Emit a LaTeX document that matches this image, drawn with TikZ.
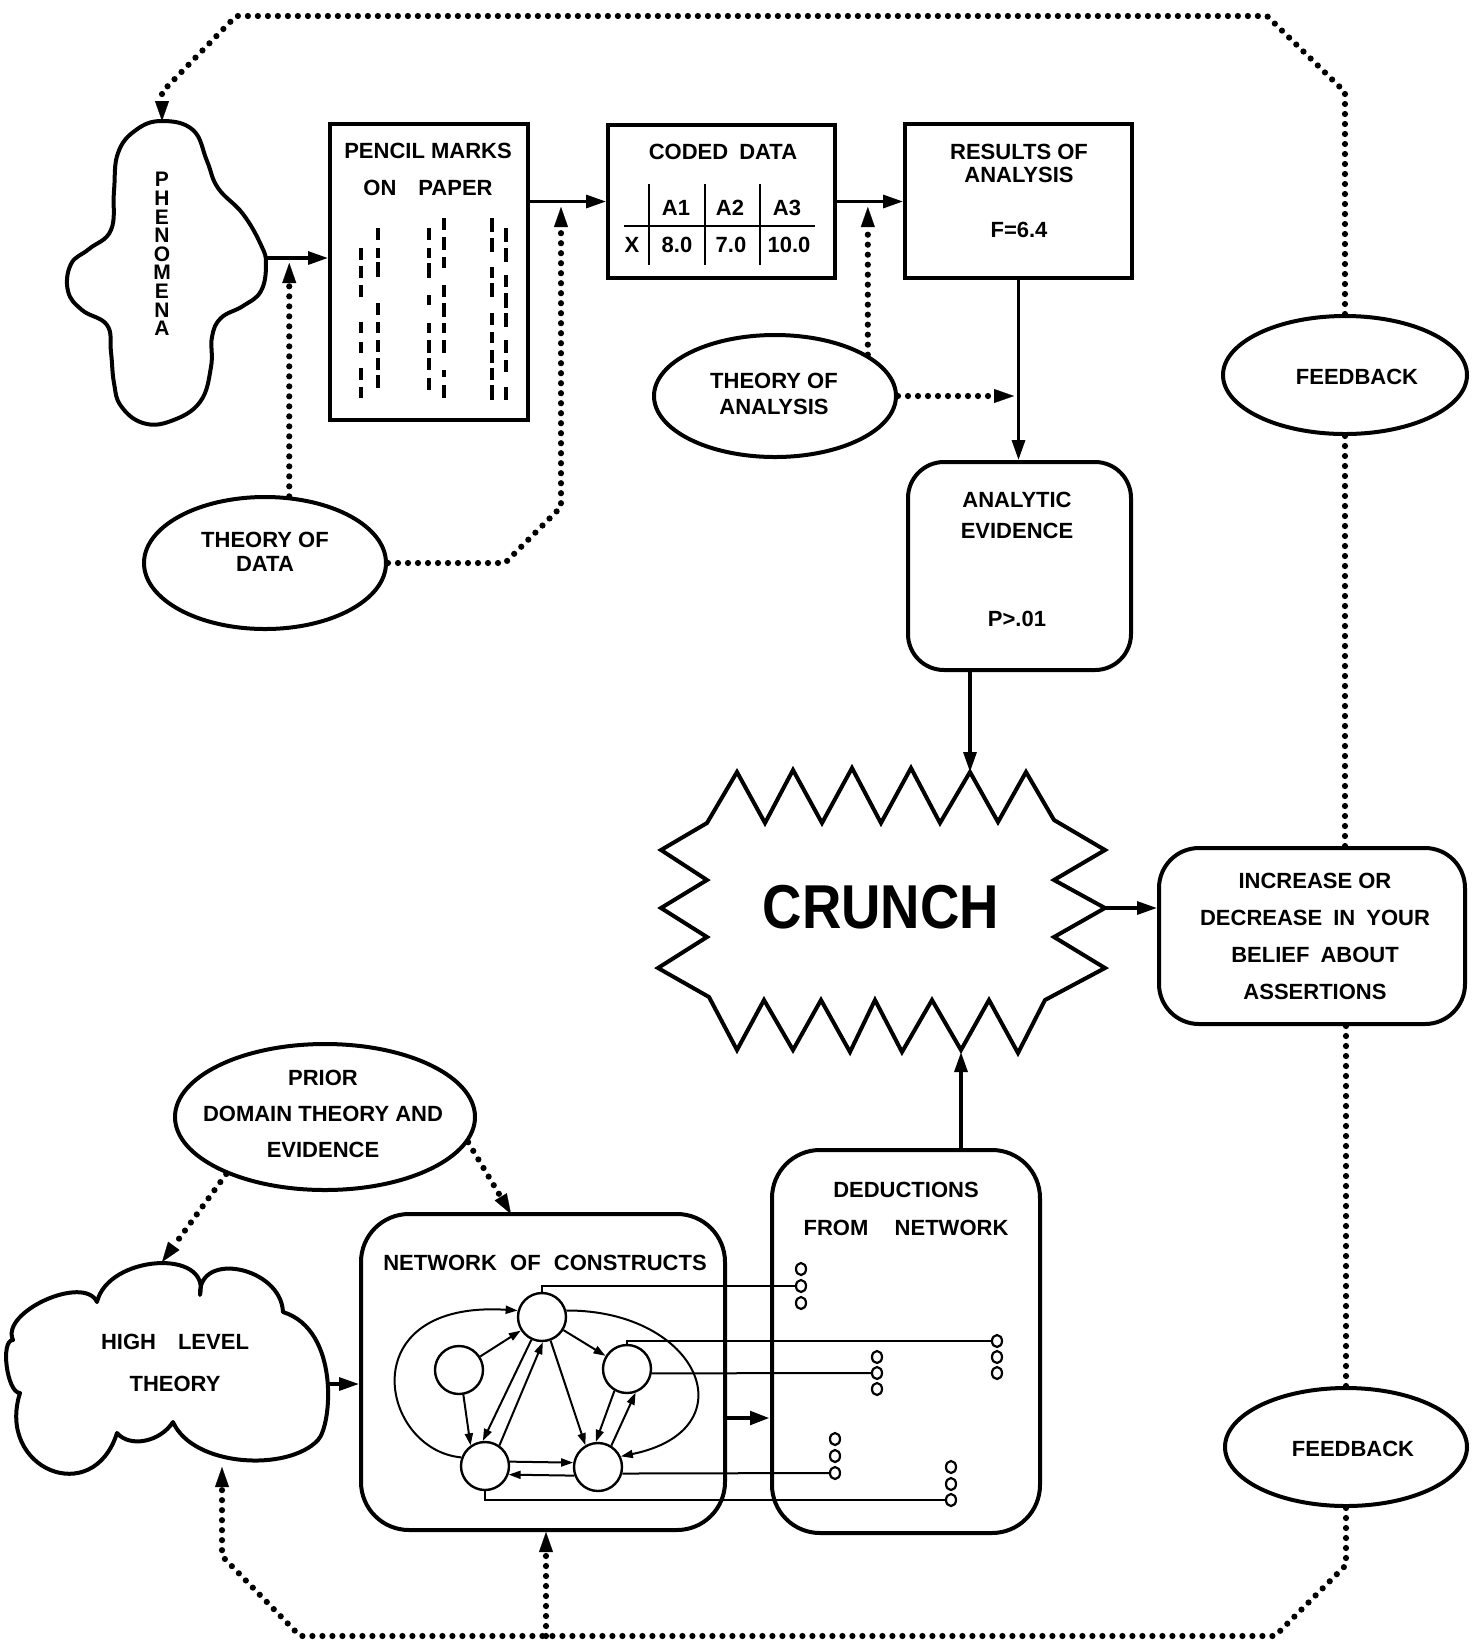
\documentclass[tikz,border=0pt]{standalone}
\usepackage{fontspec}
\setmainfont{Liberation Sans}
\usetikzlibrary{arrows.meta,shapes.geometric}
\newcommand\lblf{\bfseries\fontsize{11}{13}\selectfont}
\begin{document}
\begin{tikzpicture}[x=0.5pt,y=-0.5pt,
  box/.style={draw, line width=2pt, inner sep=0pt, rectangle},
  oval/.style={draw, ellipse, line width=2pt, inner sep=0pt},
  lbl/.style={font=\lblf, align=center, inner sep=0pt},
  arr/.style={line width=1.6pt, -{Triangle[length=10pt,width=6.5pt]}},
  dotl/.style={line width=3.1pt, line cap=round, dash pattern=on 0pt off 5pt},
  dota/.style={dotl, -{Triangle[length=10pt,width=7pt,line width=0.1pt]}},
  netl/.style={line width=1pt},
  neta/.style={netl, -{Triangle[length=6pt,width=4pt]}},
  cnode/.style={draw, circle, line width=1.2pt, minimum size=24pt, inner sep=0pt},
  sdot/.style={draw, ellipse, line width=1.1pt, minimum width=5pt, minimum height=6pt, inner sep=0pt},
  pmark/.style={line width=1.6pt},
  outline/.style={line width=2pt, line join=round}
]
\useasboundingbox (0,0) rectangle (1473,1646);
\fill[white] (0,0) rectangle (1473,1646);

% ---------- Phenomena cloud ----------
\draw[outline] plot[smooth cycle, tension=0.7] coordinates {(162,121) (193,130) (207,161) (218,188) (243,214) (261,245) (266,264) (261,291) (243,306) (221,318) (212,337) (211,367) (200,402) (171,421) (143,423) (121,406) (114,383) (111,352) (107,325) (82,310) (68,291) (71,264) (89,249) (111,230) (114,191) (118,153) (136,130)};
\node[font=\bfseries\fontsize{10.5}{9.3}\selectfont, align=center, inner sep=0pt] (phen) at (162,254) {P\\H\\E\\N\\O\\M\\E\\N\\A};
\coordinate (phenT) at (162,121);
\coordinate (phenR) at (266,258);

% ---------- boxes ----------
\node[box, minimum width=99pt, minimum height=148pt] (pencil) at (429,272) {};
\node[lbl] (pencilT1) at (428,151) {PENCIL MARKS};
\node[lbl] (pencilT2) at (428,188) {ON\hspace{1em}PAPER};
\foreach \a/\b in {248/260,266/278,285/297,322/333,342/353,368/380,387/398} \draw[pmark] (361,\a) -- (361,\b);
\foreach \a/\b in {228/240,248/258,262/277,303/315,322/333,340/352,358/370,375/388} \draw[pmark] (378,\a) -- (378,\b);
\foreach \a/\b in {228/240,248/258,263/278,295/305,323/333,340/353,358/370,378/390} \draw[pmark] (429,\a) -- (429,\b);
\foreach \a/\b in {218/230,237/250,257/268,285/297,303/317,323/333,340/353,370/377,385/398} \draw[pmark] (444,\a) -- (444,\b);
\foreach \a/\b in {218/232,238/252,267/278,283/297,313/325,332/343,350/363,368/380,385/400} \draw[pmark] (492,\a) -- (492,\b);
\foreach \a/\b in {228/242,248/262,275/287,293/308,313/327,340/353,360/372,387/400} \draw[pmark] (506,\a) -- (506,\b);

\node[box, minimum width=113.5pt, minimum height=76.5pt] (coded) at (721.5,201.5) {};
\node[lbl] (codedT) at (723,152) {CODED\hspace{0.5em}DATA};
\draw[line width=1.2pt] (649,184) -- (649,265);
\draw[line width=1.2pt] (705,184) -- (705,265);
\draw[line width=1.2pt] (760,184) -- (760,265);
\draw[line width=1.2pt] (624,226) -- (815,226);
\node[lbl] (ta1) at (676,208) {A1};
\node[lbl] (ta2) at (730,208) {A2};
\node[lbl] (ta3) at (787,208) {A3};
\node[lbl] (tx) at (632,245) {X};
\node[lbl] (tv1) at (677,245) {8.0};
\node[lbl] (tv2) at (731,245) {7.0};
\node[lbl] (tv3) at (789,245) {10.0};

\node[box, minimum width=113.5pt, minimum height=77pt] (results) at (1018.5,201) {};
\node[lbl] (resultsT) at (1019,163.5) {RESULTS OF\\[-1.5pt]ANALYSIS};
\node[lbl] (resultsF) at (1019,230) {F=6.4};

\node[box, rounded corners=18pt, minimum width=111.5pt, minimum height=104pt] (analytic) at (1019.5,566) {};
\node[lbl] (analyticT) at (1017,515.5) {ANALYTIC\\[2.5pt]EVIDENCE};
\node[lbl] (analyticP) at (1017,619) {P>.01};

\node[box, rounded corners=20pt, minimum width=153pt, minimum height=88pt] (increase) at (1312,936) {};
\node[lbl] (increaseT) at (1315,936) {INCREASE OR\\[5.5pt]DECREASE\hspace{0.5em}IN\hspace{0.5em}YOUR\\[5.5pt]BELIEF\hspace{0.5em}ABOUT\\[5.5pt]ASSERTIONS};

\node[box, rounded corners=24pt, minimum width=182pt, minimum height=158pt] (network) at (543,1372) {};
\node[lbl] (networkT) at (545,1263) {NETWORK\hspace{0.6em}OF\hspace{0.6em}CONSTRUCTS};

\node[box, rounded corners=24pt, minimum width=134pt, minimum height=191.5pt] (deduct) at (906,1341.5) {};
\node[lbl] (deductT) at (906,1209) {DEDUCTIONS\\[6pt]FROM\hspace{1.2em}NETWORK};

% ---------- ellipses ----------
\node[oval, minimum width=121pt, minimum height=66pt] (tod) at (265,563) {};
\node[lbl] (todT) at (265,552) {THEORY OF\\[-1pt]DATA};
\node[oval, minimum width=121pt, minimum height=61pt] (toa) at (775,396) {};
\node[lbl] (toaT) at (774,394) {THEORY OF\\ANALYSIS};
\node[oval, minimum width=122pt, minimum height=59pt] (fb1) at (1345,375) {};
\node[lbl] (fb1T) at (1357,377) {FEEDBACK};
\node[oval, minimum width=121pt, minimum height=59pt] (fb2) at (1346,1447) {};
\node[lbl] (fb2T) at (1353,1449) {FEEDBACK};
\node[oval, minimum width=150pt, minimum height=73pt] (prior) at (325,1117) {};
\node[lbl] (priorT) at (323,1114) {PRIOR\\[5pt]DOMAIN THEORY AND\\[5pt]EVIDENCE};

% ---------- high level theory cloud ----------
\draw[outline] (13,1340) .. controls (0,1312) and (84,1274) .. (97,1302)
 .. controls (108,1255) and (211,1248) .. (200,1295)
 .. controls (198,1250) and (281,1267) .. (283,1312)
 .. controls (340,1330) and (332,1425) .. (318,1440)
 .. controls (288,1472) and (193,1467) .. (173,1422)
 .. controls (160,1442) and (130,1448) .. (117,1433)
 .. controls (93,1509) and (-4,1469) .. (20,1393)
 .. controls (7,1393) and (0,1340) .. (13,1340) -- cycle;
\node[lbl] (hlt) at (175,1363) {HIGH\hspace{1em}LEVEL\\[8pt]THEORY};
\coordinate (hT) at (162,1262);
\coordinate (hR) at (327,1384);
\coordinate (hB) at (222,1467);

% ---------- crunch ----------
\draw[line width=2pt, line join=miter] (707,823) -- (737,772) -- (765,823) -- (793,770) -- (822,823) -- (852,768) -- (881,823) -- (911,768) -- (940,823) -- (970,772) -- (998,822) -- (1026,772) -- (1054,820) -- (1105,850) -- (1054,880) -- (1105,908) -- (1054,937) -- (1105,968) -- (1045,1000) -- (1018,1053) -- (989,1000) -- (961,1050) -- (932,1000) -- (902,1052) -- (875,1000) -- (850,1052) -- (821,1000) -- (793,1050) -- (764,1000) -- (737,1050) -- (709,997) -- (658,968) -- (707,937) -- (661,908) -- (707,880) -- (661,850) -- cycle;
\node[font=\bfseries\fontsize{31}{31}\selectfont, inner sep=0pt] (crunch) at (881,907) {\scalebox{0.88}[1]{CRUNCH}};
\coordinate (cT) at (970,772);
\coordinate (cR) at (1105,908);
\coordinate (cB) at (961,1052);

% ---------- main arrows ----------
\draw[arr] (phenR) -- (phenR -| pencil.west);
\draw[arr] (pencil.east |- coded.west) -- (coded.west);
\draw[arr] (coded.east) -- (coded.east -| results.west);
\draw[arr] (results.south) -- (results.south |- analytic.north);
\draw[arr] (analytic.south -| cT) -- (cT);
\draw[arr] (cR) -- (cR -| increase.west);
\draw[arr] (deduct.north -| cB) -- (cB);
\draw[arr] (hR) -- (hR -| network.west);
\coordinate (nd) at (725,1418);
\draw[arr, line width=2.4pt] (nd) -- (nd -| deduct.west);

% ---------- dotted arrows ----------
\coordinate (j1) at (288,263);
\draw[dota] (tod.70) -- (tod.70 |- j1);
\coordinate (j2) at (561,207);
\draw[dota] (tod.east) -- (505,563) -- (561,507) -- (j2);
\coordinate (j3) at (865,207);
\draw[dota] (toa.24) -- (toa.24 |- j3);
\coordinate (j4) at (1014,396);
\draw[dota] (toa.east) -- (toa.east -| j4);
\draw[dota] (fb1.north) -- (1345,92) -- (1267,16) -- (236,16) -- (162,92) -- (phenT);
\draw[dotl] (fb1.south) -- (fb1.south |- increase.north);
\draw[dotl] (increase.south -| fb2.north) -- (fb2.north);
\draw[dota] (fb2.south) -- (1346,1565) -- (1275,1636) -- (300,1636) -- (222,1556) -- (hB);
\coordinate (bN) at (546,1636);
\draw[dota] (bN) -- (bN |- network.south);
\draw[dota] (prior.210) -- (hT);
\coordinate (nT) at (511,1214);
\draw[dota] (prior.-10) -- (nT);

% ---------- network of constructs ----------
\node[cnode] (c1) at (542,1317) {};
\node[cnode] (c2) at (459,1370) {};
\node[cnode] (c3) at (627,1369) {};
\node[cnode] (c4) at (485,1466) {};
\node[cnode] (c5) at (598,1467) {};
\draw[neta] (c2) -- (c1);
\draw[neta] (c2.280) -- (c4.125);
\draw[neta] (c1.245) -- (c4.95);
\draw[neta] (c4.55) -- (c1.272);
\draw[neta] (c1) -- (c3);
\draw[neta] (c1.290) -- (c5.120);
\draw[neta] (c3.240) -- (c5.95);
\draw[neta] (c5.58) -- (c3.290);
\draw[neta] (c4.10) -- (c5.170);
\draw[neta] (c5.200) -- (c4.340);
\draw[neta] (c4.160) .. controls (380,1450) and (350,1300) .. (c1.165);
\draw[neta] (c1.15) .. controls (700,1310) and (750,1430) .. (c5.25);

\node[sdot] (g1a) at (801,1269) {};
\node[sdot] (g1b) at (801,1286) {};
\node[sdot] (g1c) at (801,1303) {};
\node[sdot] (g2a) at (997,1341) {};
\node[sdot] (g2b) at (997,1357) {};
\node[sdot] (g2c) at (997,1373) {};
\node[sdot] (g3a) at (877,1357) {};
\node[sdot] (g3b) at (877,1373) {};
\node[sdot] (g3c) at (877,1389) {};
\node[sdot] (g4a) at (835,1439) {};
\node[sdot] (g4b) at (835,1456) {};
\node[sdot] (g4c) at (835,1473) {};
\node[sdot] (g5a) at (951,1467) {};
\node[sdot] (g5b) at (951,1484) {};
\node[sdot] (g5c) at (951,1500) {};
\draw[netl] (c1.north) |- (g1b.west);
\draw[netl] (c3.north) |- (g2a.west);
\draw[netl] (c3.-10) -- (g3b.west);
\draw[netl] (c5.-15) -- (g4c.west);
\draw[netl] (c4.south) |- (g5c.west);
\end{tikzpicture}
\end{document}
